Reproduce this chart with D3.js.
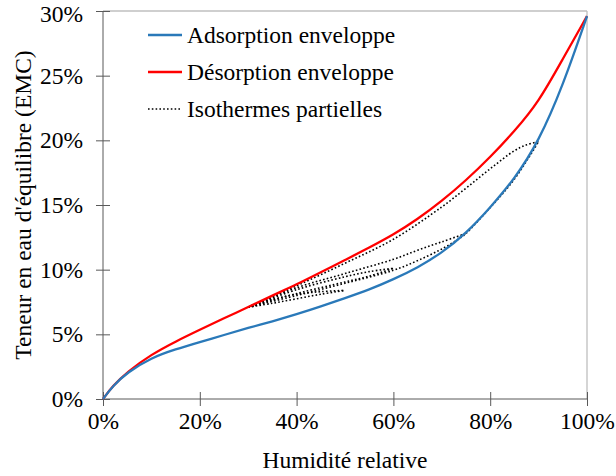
<!DOCTYPE html>
<html><head><meta charset="utf-8">
<script src="https://cdn.jsdelivr.net/npm/d3@7"></script>
<style>
html,body{margin:0;padding:0;background:#fff;}
</style></head>
<body><svg id="chart" width="616" height="476"></svg>
<script>
// ---- data ----
const humidity   = [0,2,5,10,15,20,25,30,35,40,45,50,55,60,65,70,75,80,85,90,95,100];
const adsorption = [0,1.0,2.05,3.2,3.85,4.4,4.95,5.5,6.0,6.55,7.15,7.8,8.45,9.25,10.15,11.3,12.8,14.8,17.0,19.9,24.2,29.6];
const desorption = [0,1.0,2.1,3.45,4.45,5.35,6.25,7.1,8.0,8.85,9.8,10.75,11.7,12.7,13.9,15.3,16.9,18.7,20.7,22.95,26.3,29.6];

// partial isotherms: [humidity %, EMC %]
const scanDes90 = [[30,7.1],[40,8.75],[50,10.5],[60,12.35],[70,14.85],[75,16.3],[80,17.8],[85,19.2],[87.5,19.65],[90,19.9]];
const scanAds75 = [[30,7.1],[40,8.0],[50,8.95],[60,9.95],[65,10.7],[70,11.6],[74,12.5],[75,12.8],[80,14.8],[85,17.0],[90,19.9]];
const scanDes75 = [[30,7.1],[40,8.6],[50,9.7],[60,10.8],[65,11.5],[70,12.15],[75,12.8]];
const scanAds60 = [[30,7.1],[40,8.15],[50,9.05],[55,9.5],[60,10.1]];
const scanDes60 = [[30,7.1],[40,8.45],[50,9.45],[55,9.85],[60,10.1]];
const scanAds50 = [[30,7.1],[35,7.4],[40,7.75],[45,8.1],[50,8.4]];
const scanDes50 = [[30,7.1],[35,7.7],[40,8.1],[45,8.3],[50,8.4]];
const partials = [scanDes90, scanAds75, scanDes75, scanAds60, scanDes60, scanAds50, scanDes50];

const xTickValues = [0,20,40,60,80,100];
const yTickValues = [0,5,10,15,20,25,30];
const legendLabels = ["Adsorption enveloppe","Désorption enveloppe","Isothermes partielles"];
const xTitle = "Humidité relative";
const yTitle = "Teneur en eau d'équilibre (EMC)";

// ---- layout ----
const FONT = "Liberation Serif";
const svg = d3.select("#chart").attr("font-family",FONT);
const L = 103, R = 587, T = 11, B = 399;
const x = d3.scaleLinear().domain([0,100]).range([L,R]);
const y = d3.scaleLinear().domain([0,30]).range([B,T]);
const axisColor = "#595959";
const FS = 23.5;

svg.append("line").attr("x1",L).attr("x2",R).attr("y1",T).attr("y2",T).attr("stroke","#bfbfbf").attr("stroke-width",1.3);
svg.append("line").attr("x1",R).attr("x2",R).attr("y1",T).attr("y2",B).attr("stroke","#bfbfbf").attr("stroke-width",1.3);

const xMinor = d3.range(0,101,4);
const yMinor = d3.range(0,31,1);
const gx = svg.append("g").attr("transform",`translate(0,${B})`);
gx.call(d3.axisBottom(x).tickValues(xMinor).tickSize(-7).tickFormat(""))
  .call(g=>g.select(".domain").remove())
  .call(g=>g.selectAll("line").attr("stroke",axisColor));
gx.call(d3.axisBottom(x).tickValues(xTickValues).tickSize(7).tickFormat(d=>d+"%").tickPadding(6))
  .call(g=>g.select(".domain").attr("stroke",axisColor).attr("d",`M${L},0H${R}`))
  .call(g=>g.selectAll(".tick line").attr("stroke",axisColor).attr("y1",-7))
  .call(g=>g.selectAll("text").attr("font-size",FS).attr("fill","#000"));
gx.attr("font-family",FONT);

const gy = svg.append("g").attr("transform",`translate(${L},0)`);
gy.call(d3.axisLeft(y).tickValues(yMinor).tickSize(-7).tickFormat(""))
  .call(g=>g.select(".domain").remove())
  .call(g=>g.selectAll("line").attr("stroke",axisColor));
gy.call(d3.axisLeft(y).tickValues(yTickValues).tickSize(7).tickFormat(d=>d+"%").tickPadding(13))
  .call(g=>g.select(".domain").attr("stroke",axisColor).attr("d",`M0,${B}V${T}`))
  .call(g=>g.selectAll(".tick line").attr("stroke",axisColor).attr("x1",7))
  .call(g=>g.selectAll("text").attr("font-size",FS).attr("fill","#000"))
  .call(g=>g.selectAll(".tick text").filter(d=>d===30).attr("y",2.5));
gy.attr("font-family",FONT);

const lineEnv = d3.line().x((d,i)=>x(humidity[i])).y(d=>y(d)).curve(d3.curveBasis);
const linePart = d3.line().x(d=>x(d[0])).y(d=>y(d[1])).curve(d3.curveCatmullRom.alpha(0.5));

const plot = svg.append("g");
plot.selectAll(".partial").data(partials).join("path").attr("class","partial")
  .attr("d",linePart).attr("fill","none").attr("stroke","#000")
  .attr("stroke-width",1.6).attr("stroke-dasharray","1.6,2.2");
plot.append("path").attr("d",lineEnv(desorption)).attr("fill","none").attr("stroke","#ff0000").attr("stroke-width",2.3);
plot.append("path").attr("d",lineEnv(adsorption)).attr("fill","none").attr("stroke","#2a79b9").attr("stroke-width",2.3);

svg.append("text").attr("x",(L+R)/2).attr("y",468).attr("text-anchor","middle").attr("font-size",FS).text(xTitle);
svg.append("text").attr("transform",`translate(31,${(T+B)/2}) rotate(-90)`).attr("text-anchor","middle").attr("font-size",FS).text(yTitle);

const legendStyles = [
  {stroke:"#2a79b9",w:2.3,dash:null},
  {stroke:"#ff0000",w:2.3,dash:null},
  {stroke:"#000",w:1.6,dash:"1.6,2.2"}
];
const legendY = d3.scalePoint().domain(legendLabels).range([35,109]);
const lg = svg.append("g");
legendLabels.forEach((lab,i)=>{
  const yy = legendY(lab);
  lg.append("line").attr("x1",148).attr("x2",182).attr("y1",yy).attr("y2",yy)
    .attr("stroke",legendStyles[i].stroke).attr("stroke-width",legendStyles[i].w)
    .attr("stroke-dasharray",legendStyles[i].dash);
  lg.append("text").attr("x",187).attr("y",yy).attr("dy","0.35em").attr("font-size",FS).text(lab);
});
</script></body></html>
